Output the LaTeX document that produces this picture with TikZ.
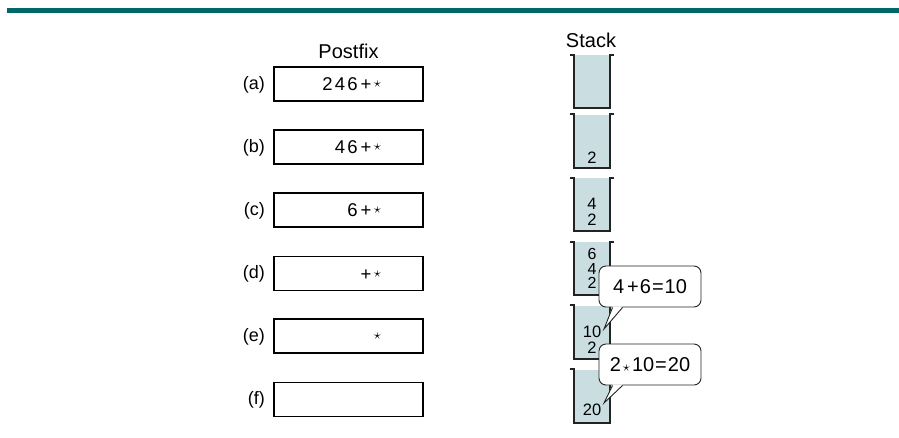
\documentclass[tikz,border=0pt]{standalone}
\usepackage{fontspec}
\setmainfont{Liberation Sans}
\definecolor{barcol}{RGB}{0,104,107}
\definecolor{stackcol}{RGB}{202,222,226}
\definecolor{wallcol}{RGB}{35,35,35}
\begin{document}
\begin{tikzpicture}[x=1pt,y=-1pt,
  header/.style={font=\fontsize{20}{24}\selectfont, inner sep=0pt, anchor=base},
  rowlabel/.style={font=\fontsize{18}{22}\selectfont, inner sep=0pt, anchor=east},
  pbox/.style={draw=black, line width=1.3pt, minimum width=149pt, minimum height=34pt, inner sep=0pt},
  boxchar/.style={font=\fontsize{18.5}{20}\selectfont, inner sep=0pt, anchor=base},
  boxstar/.style={font=\fontsize{20}{20}\selectfont, inner sep=0pt, anchor=center},
  stackbody/.style={fill=stackcol, minimum width=36pt, minimum height=53pt, inner sep=0pt},
  wall/.style={draw=wallcol, line width=1.7pt, line join=miter},
  stackdigit/.style={font=\fontsize{16.5}{14}\selectfont, inner sep=0pt, anchor=south, align=center},
  callbox/.style={draw=wallcol, fill=white, line width=0.9pt, rounded corners=7pt, minimum width=102pt, minimum height=41pt, inner sep=0pt, font=\fontsize{20}{22}\selectfont},
  callline/.style={draw=wallcol, line width=0.9pt, line join=miter}
]
\useasboundingbox (0,0) rectangle (899,437);
% top bar
\fill[barcol] (7,8) rectangle (899,13);

% headers
\node[header] (hpost) at (348.5,58) {Postfix};
\node[header] (hstack) at (591,47) {Stack};

% postfix boxes
\node[pbox] (ba) at (348.5,84) {};
\node[pbox] (bb) at (348.5,147) {};
\node[pbox] (bc) at (348.5,210) {};
\node[pbox] (bd) at (348.5,273.5) {};
\node[pbox] (be) at (348.5,336) {};
\node[pbox] (bf) at (348.5,399.5) {};

% row labels
\node[rowlabel] (la) at (265,84.5) {(a)};
\node[rowlabel] (lb) at (265,147.5) {(b)};
\node[rowlabel] (lc) at (265,210.5) {(c)};
\node[rowlabel] (ld) at (265,274) {(d)};
\node[rowlabel] (le) at (265,336.5) {(e)};
\node[rowlabel] (lf) at (265,400) {(f)};

% postfix contents
\node[boxchar] (a1) at (327.5,90.5) {2};
\node[boxchar] (a2) at (340,90.5) {4};
\node[boxchar] (a3) at (352.5,90.5) {6};
\node[boxchar] (a4) at (366,90.5) {+};
\node[boxstar] (a5) at (377.5,84.5) {$\scriptstyle\star$};

\node[boxchar] (b2) at (340,153.5) {4};
\node[boxchar] (b3) at (352.5,153.5) {6};
\node[boxchar] (b4) at (366,153.5) {+};
\node[boxstar] (b5) at (377.5,147.5) {$\scriptstyle\star$};

\node[boxchar] (c3) at (352.5,216.5) {6};
\node[boxchar] (c4) at (366,216.5) {+};
\node[boxstar] (c5) at (377.5,210.5) {$\scriptstyle\star$};

\node[boxchar] (d4) at (366,280) {+};
\node[boxstar] (d5) at (377.5,274) {$\scriptstyle\star$};

\node[boxstar] (e5) at (377.5,336.5) {$\scriptstyle\star$};

% stacks
\foreach \nm/\cy in {sa/81.5, sb/141, sc/204.5, sd/268.5, se/332, sf/396}{
  \node[stackbody] (\nm) at (592,\cy) {};
  \draw[wall] ([xshift=-4pt]\nm.north west) -- (\nm.north west) -- (\nm.south west)
    -- (\nm.south east) -- (\nm.north east) -- ([xshift=4pt]\nm.north east);
}

% stack contents
\node[stackdigit] (tb) at (592,163.5) {2};
\node[stackdigit, font=\fontsize{16.5}{16}\selectfont] (tc) at (592,226) {4\\2};
\node[stackdigit, font=\fontsize{16}{14.5}\selectfont] (td) at (592,289) {6\\4\\2};
\node[stackdigit, font=\fontsize{16.5}{15.5}\selectfont] (te) at (592,353.5) {10\\2};
\node[stackdigit] (tf) at (592,416) {20};

% callouts
\node[callbox] (ca) at (650,286.5) {4\kern3pt+\kern1pt6\kern1pt=\kern1pt10};
\coordinate (pa) at (604,329);
\fill[white] ([xshift=14pt,yshift=1pt]ca.south west) -- (pa) -- ([xshift=24pt,yshift=1pt]ca.south west) -- cycle;
\draw[callline] ([xshift=14pt]ca.south west) -- (pa) -- ([xshift=24pt]ca.south west);

\node[callbox] (cb) at (650,364.5) {2\kern2pt$\scriptstyle\star$\kern2pt10\kern1pt=\kern1pt20};
\coordinate (pb) at (604,403);
\fill[white] ([xshift=14pt,yshift=1pt]cb.south west) -- (pb) -- ([xshift=24pt,yshift=1pt]cb.south west) -- cycle;
\draw[callline] ([xshift=14pt]cb.south west) -- (pb) -- ([xshift=24pt]cb.south west);
\end{tikzpicture}
\end{document}
